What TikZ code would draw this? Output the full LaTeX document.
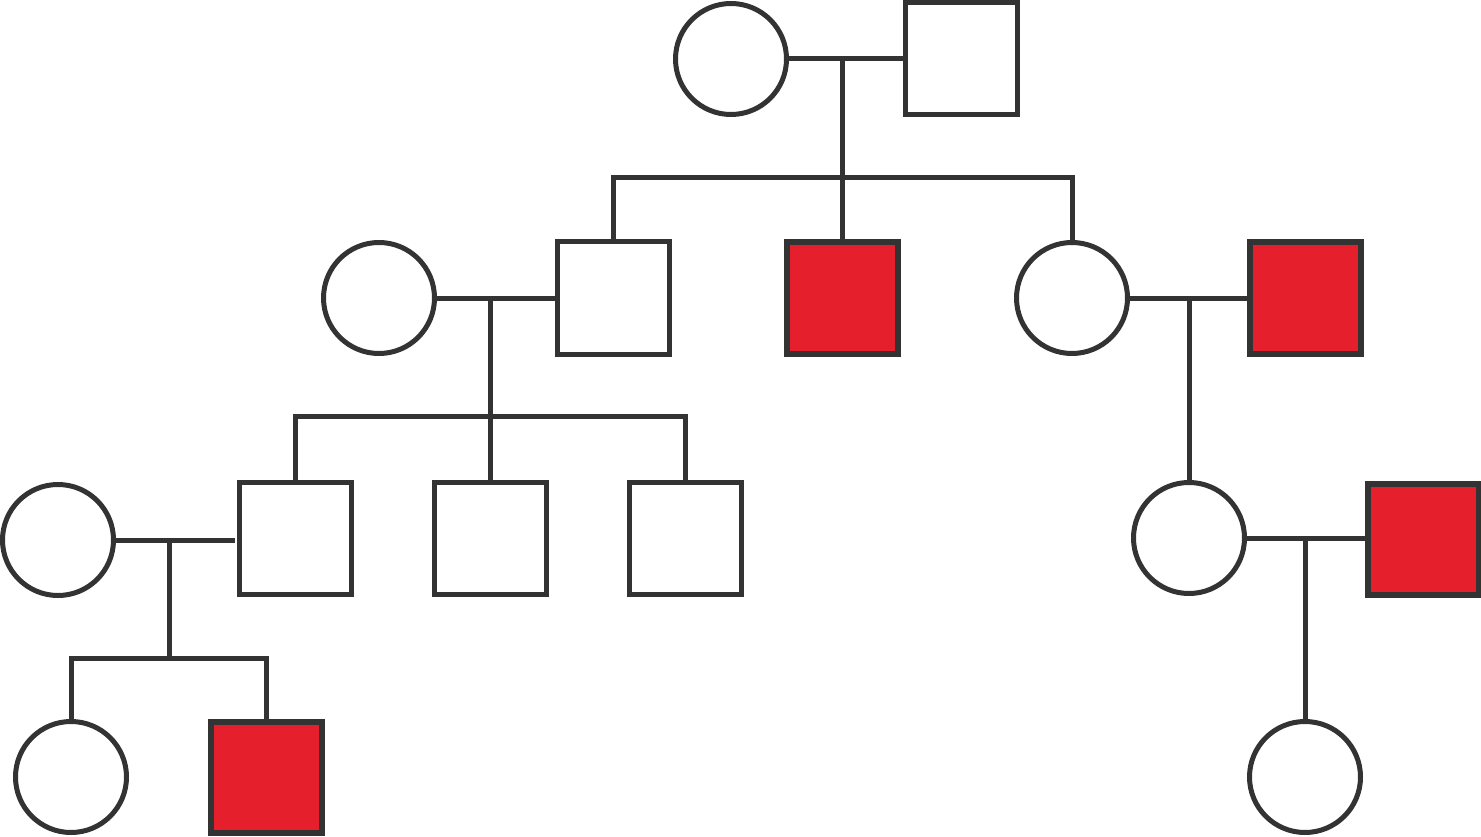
\documentclass[tikz,border=0pt]{standalone}
\definecolor{lineC}{HTML}{333333}
\definecolor{affC}{HTML}{E51F2B}
\begin{document}
\begin{tikzpicture}[x=1pt,y=-1pt,
  female/.style={circle, draw=lineC, line width=5pt, fill=white, inner sep=0pt, minimum size=111pt},
  male/.style={rectangle, draw=lineC, line width=5pt, fill=white, inner sep=0pt, minimum size=112pt},
  affmale/.style={rectangle, draw=lineC, line width=6pt, fill=affC, inner sep=0pt, minimum size=111pt},
  link/.style={draw=lineC, line width=5pt, line join=miter}]
\useasboundingbox[fill=white] (0,0) rectangle (1481,837);
% generation 1
\node[female] (g1f) at (731,59) {};
\node[male] (g1m) at (961,59) {};
% generation 2
\node[female] (a) at (379,298) {};
\node[male] (b) at (613,298) {};
\node[affmale] (c) at (842,298) {};
\node[female] (d) at (1072,298) {};
\node[affmale] (e) at (1305,298) {};
% generation 3
\node[female] (i) at (58,540) {};
\node[male] (s1) at (295,538) {};
\node[male] (s2) at (490,538) {};
\node[male] (s3) at (685,538) {};
\node[female] (f) at (1189,538) {};
\node[affmale] (g) at (1423,539) {};
% generation 4
\node[female] (j) at (71,777) {};
\node[affmale] (k) at (266,777) {};
\node[female] (h) at (1305,777) {};
% mating points and sibship bars
\coordinate (m1) at (842,59);
\coordinate (sib1) at (842,178);
\coordinate (m2) at (490,298);
\coordinate (sib2) at (490,416);
\coordinate (m3) at (1189,298);
\coordinate (m4) at (169,540);
\coordinate (sib4) at (169,658);
\coordinate (m5) at (1305,538);
% couples
\draw[link] (g1f.east) -- (g1m.west);
\draw[link] (a.east) -- (b.west);
\draw[link] (d.east) -- (e.west);
\draw[link] (i.east) -- ([xshift=-2pt]s1.west |- i.east);
\draw[link] (f.east) -- (g.west |- f.east);
% descent
\draw[link] (m1) -- (c.north);
\draw[link] (b.north) -- (b.north |- sib1) -- (d.north |- sib1) -- (d.north);
\draw[link] (m2) -- (s2.north);
\draw[link] (s1.north) -- (s1.north |- sib2) -- (s3.north |- sib2) -- (s3.north);
\draw[link] (m3) -- (f.north);
\draw[link] (m4) -- (sib4);
\draw[link] (j.north) -- (j.north |- sib4) -- (k.north |- sib4) -- (k.north);
\draw[link] (m5) -- (h.north);
\end{tikzpicture}
\end{document}
